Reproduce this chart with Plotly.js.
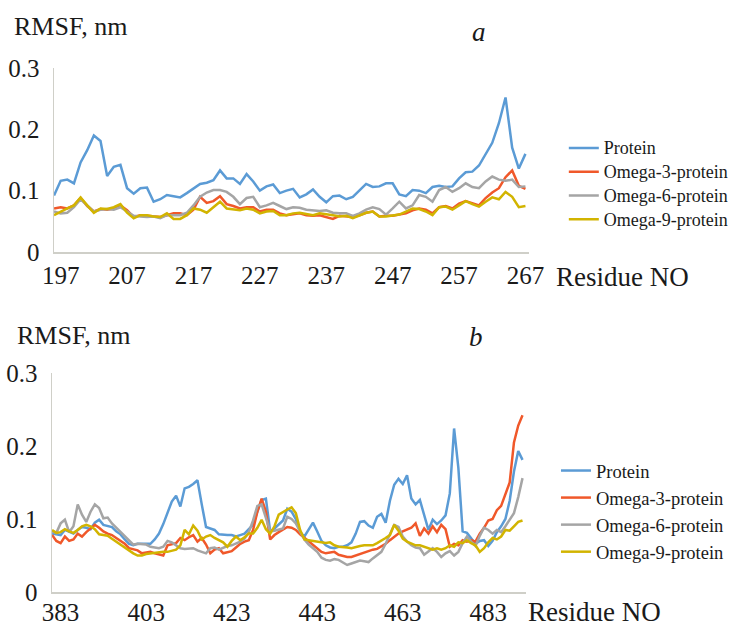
<!DOCTYPE html>
<html>
<head>
<meta charset="utf-8">
<script src="https://cdn.plot.ly/plotly-3.0.1.min.js"></script>
<style>html,body{margin:0;padding:0;background:#fff;}#chart{width:733px;height:626px;}</style>
</head>
<body>
<div id="chart"></div>
<script>
// ---------- Panel a: residues 196..267 ----------
const startA = 196;
const proteinA = [0.092,0.116,0.118,0.112,0.146,0.166,0.190,0.181,0.124,0.139,0.142,0.104,0.095,0.104,0.105,0.082,0.086,0.093,0.091,0.089,0.096,0.104,0.111,0.113,0.117,0.133,0.120,0.120,0.111,0.127,0.115,0.100,0.107,0.110,0.096,0.100,0.103,0.089,0.094,0.102,0.090,0.081,0.091,0.092,0.086,0.090,0.100,0.111,0.106,0.107,0.112,0.112,0.094,0.091,0.101,0.100,0.096,0.106,0.108,0.106,0.107,0.120,0.130,0.131,0.141,0.160,0.178,0.210,0.252,0.170,0.136,0.160];
const omega3A = [0.071,0.073,0.071,0.076,0.088,0.075,0.066,0.070,0.069,0.071,0.076,0.068,0.057,0.060,0.059,0.058,0.057,0.060,0.063,0.063,0.060,0.069,0.090,0.080,0.083,0.091,0.078,0.075,0.071,0.073,0.073,0.066,0.069,0.069,0.063,0.060,0.062,0.063,0.060,0.059,0.060,0.057,0.054,0.059,0.058,0.057,0.060,0.064,0.066,0.058,0.059,0.059,0.061,0.063,0.068,0.071,0.069,0.063,0.073,0.075,0.071,0.079,0.083,0.080,0.076,0.088,0.097,0.104,0.122,0.133,0.108,0.103];
const omega6A = [0.066,0.063,0.064,0.073,0.086,0.076,0.066,0.069,0.070,0.069,0.073,0.066,0.059,0.058,0.057,0.058,0.055,0.060,0.060,0.060,0.064,0.076,0.090,0.097,0.101,0.101,0.098,0.090,0.078,0.088,0.090,0.073,0.076,0.080,0.075,0.070,0.073,0.072,0.069,0.068,0.067,0.068,0.064,0.063,0.063,0.059,0.063,0.069,0.073,0.070,0.061,0.071,0.082,0.071,0.076,0.093,0.090,0.082,0.101,0.106,0.098,0.104,0.112,0.106,0.104,0.115,0.123,0.118,0.116,0.118,0.106,0.107];
const omega9A = [0.060,0.066,0.071,0.076,0.089,0.076,0.064,0.071,0.070,0.073,0.078,0.064,0.055,0.060,0.060,0.058,0.057,0.063,0.054,0.054,0.060,0.071,0.069,0.064,0.073,0.082,0.071,0.069,0.068,0.071,0.069,0.063,0.066,0.067,0.060,0.060,0.063,0.064,0.062,0.060,0.063,0.062,0.060,0.058,0.059,0.055,0.060,0.064,0.066,0.058,0.058,0.060,0.061,0.066,0.071,0.070,0.066,0.060,0.073,0.074,0.069,0.076,0.083,0.078,0.074,0.082,0.089,0.086,0.098,0.090,0.073,0.075];
const ticksA = [197,207,217,227,237,247,257,267];

// ---------- Panel b: residues 381..491 ----------
const startB = 381;
const proteinB = [0.080,0.079,0.078,0.085,0.082,0.080,0.085,0.089,0.088,0.086,0.095,0.099,0.092,0.090,0.089,0.083,0.079,0.072,0.066,0.064,0.066,0.066,0.066,0.066,0.072,0.080,0.093,0.108,0.124,0.132,0.117,0.142,0.144,0.148,0.153,0.120,0.089,0.087,0.085,0.079,0.078,0.078,0.078,0.076,0.078,0.080,0.086,0.092,0.110,0.126,0.128,0.083,0.087,0.093,0.098,0.114,0.110,0.100,0.082,0.076,0.085,0.095,0.083,0.070,0.064,0.061,0.060,0.062,0.062,0.064,0.068,0.080,0.096,0.097,0.091,0.088,0.103,0.107,0.095,0.125,0.147,0.155,0.148,0.160,0.128,0.120,0.126,0.105,0.085,0.099,0.093,0.098,0.105,0.135,0.224,0.170,0.083,0.081,0.073,0.066,0.070,0.071,0.063,0.070,0.082,0.090,0.100,0.125,0.165,0.193,0.181];
const omega3B = [0.078,0.070,0.067,0.076,0.070,0.072,0.080,0.076,0.082,0.087,0.092,0.088,0.083,0.080,0.078,0.074,0.070,0.066,0.060,0.059,0.057,0.053,0.054,0.055,0.053,0.051,0.050,0.064,0.065,0.067,0.074,0.071,0.075,0.078,0.069,0.074,0.065,0.053,0.058,0.060,0.053,0.054,0.056,0.061,0.066,0.069,0.071,0.085,0.110,0.128,0.110,0.072,0.078,0.082,0.085,0.089,0.088,0.085,0.079,0.074,0.069,0.064,0.059,0.055,0.053,0.054,0.055,0.051,0.049,0.048,0.048,0.050,0.053,0.055,0.057,0.058,0.059,0.062,0.066,0.071,0.076,0.080,0.083,0.086,0.088,0.094,0.077,0.087,0.080,0.090,0.082,0.092,0.086,0.062,0.066,0.064,0.071,0.069,0.071,0.069,0.080,0.088,0.098,0.100,0.112,0.118,0.133,0.150,0.205,0.228,0.242];
const omega6B = [0.083,0.081,0.094,0.099,0.082,0.090,0.120,0.106,0.096,0.110,0.120,0.115,0.101,0.102,0.094,0.088,0.082,0.076,0.071,0.065,0.066,0.066,0.065,0.062,0.061,0.060,0.062,0.070,0.068,0.064,0.060,0.059,0.059,0.060,0.057,0.055,0.053,0.060,0.061,0.058,0.061,0.063,0.064,0.066,0.069,0.073,0.082,0.098,0.118,0.120,0.100,0.083,0.084,0.086,0.087,0.103,0.100,0.094,0.083,0.072,0.065,0.060,0.055,0.047,0.044,0.043,0.045,0.044,0.040,0.037,0.039,0.041,0.043,0.042,0.041,0.046,0.050,0.055,0.066,0.078,0.092,0.089,0.076,0.069,0.064,0.061,0.060,0.051,0.055,0.060,0.055,0.048,0.053,0.056,0.050,0.055,0.067,0.076,0.069,0.063,0.077,0.088,0.085,0.080,0.085,0.082,0.090,0.100,0.108,0.130,0.156];
const omega9B = [0.085,0.081,0.082,0.086,0.083,0.081,0.085,0.090,0.092,0.090,0.086,0.079,0.078,0.077,0.073,0.069,0.064,0.060,0.057,0.053,0.050,0.050,0.052,0.053,0.054,0.055,0.055,0.055,0.057,0.058,0.064,0.085,0.079,0.091,0.084,0.072,0.076,0.078,0.074,0.071,0.068,0.062,0.070,0.076,0.071,0.075,0.080,0.080,0.088,0.099,0.086,0.080,0.090,0.106,0.110,0.113,0.116,0.108,0.085,0.072,0.071,0.070,0.069,0.069,0.067,0.068,0.064,0.062,0.062,0.061,0.060,0.062,0.063,0.064,0.064,0.064,0.067,0.070,0.074,0.078,0.092,0.084,0.073,0.069,0.066,0.064,0.064,0.062,0.060,0.058,0.060,0.058,0.060,0.064,0.062,0.068,0.067,0.071,0.067,0.064,0.055,0.060,0.068,0.074,0.072,0.076,0.085,0.084,0.090,0.096,0.098];
const ticksB = [383,403,423,443,463,483];

const seriesNames = ['Protein','Omega-3-protein','Omega-6-protein','Omega-9-protein'];
const colors = ['#5b9bd5','#f0582a','#a5a5a5','#d2b400'];

function residues(start, n){ const r=[]; for(let i=0;i<n;i++) r.push(start+i); return r; }

const traces = [];
[proteinA, omega3A, omega6A, omega9A].forEach((vals,i)=>{
  traces.push({type:'scatter', mode:'lines', x:residues(startA, vals.length), y:vals,
    name:'<span style="font-size:18px">' + seriesNames[i] + '</span>',
    line:{color:colors[i], width:2.5}, xaxis:'x', yaxis:'y', legend:'legend'});
});
[proteinB, omega3B, omega6B, omega9B].forEach((vals,i)=>{
  traces.push({type:'scatter', mode:'lines', x:residues(startB, vals.length), y:vals, name:seriesNames[i],
    line:{color:colors[i], width:2.5}, xaxis:'x2', yaxis:'y2', legend:'legend2'});
});

const serif = 'Liberation Serif';
const ink = '#1a1a1a';
const axisLine = '#cfcfc8';
const W = 733, H = 626;
const px = v => v / W, py = v => 1 - v / H;

function xAx(domain, range, ticks, standoff){
  return {domain:domain, range:range, tickmode:'array', tickvals:ticks, ticktext:ticks.map(String),
    showline:true, linecolor:axisLine, linewidth:1.5, showgrid:false, zeroline:false, ticks:'',
    tickfont:{family: serif, size: 25, color: ink}, ticklabelstandoff:standoff, fixedrange:true};
}
function yAx(domain, anchor){
  return {domain:domain, range:[0,0.3], tickmode:'array', tickvals:[0,0.1,0.2,0.3], ticktext:['0','0.1','0.2','0.3'],
    showline:true, linecolor:axisLine, linewidth:1.5, showgrid:false, zeroline:false, ticks:'',
    tickfont:{family: serif, size: 25, color: ink}, ticklabelstandoff:8, anchor:anchor, fixedrange:true};
}

const layout = {
  width: W, height: H, autosize:false,
  margin:{l:0,r:0,t:0,b:0,pad:0},
  paper_bgcolor:'#ffffff', plot_bgcolor:'#ffffff',
  font:{family: serif, color: ink},
  xaxis: Object.assign(xAx([px(55), px(539)], [196, 267.6], ticksA, 0), {anchor:'y'}),
  yaxis: yAx([py(252), py(68)], 'x'),
  xaxis2: Object.assign(xAx([px(53), px(535)], [381, 491.7], ticksB, -3), {anchor:'y2'}),
  yaxis2: yAx([py(592), py(373)], 'x2'),
  legend: {x: px(574), xanchor:'left', y: py(131), yanchor:'top', bgcolor:'rgba(0,0,0,0)',
    font:{family: serif, size:16, color: ink}, itemwidth:30, traceorder:'normal'},
  legend2: {x: px(566), xanchor:'left', y: py(452), yanchor:'top', bgcolor:'rgba(0,0,0,0)',
    font:{family: serif, size:18.5, color: ink}, itemwidth:30, traceorder:'normal'},
  showlegend:true,
  annotations:[
    {text:'RMSF, nm', x:px(12), y:py(27), xref:'paper', yref:'paper', xanchor:'left', yanchor:'middle', showarrow:false, font:{family:serif, size:26, color:ink}},
    {text:'<i>a</i>', x:px(488), y:py(32), xref:'paper', yref:'paper', xanchor:'center', yanchor:'middle', showarrow:false, font:{family:serif, size:27, color:ink}},
    {text:'Residue NO', x:px(564), y:py(277), xref:'paper', yref:'paper', xanchor:'left', yanchor:'middle', showarrow:false, font:{family:serif, size:27, color:ink}},
    {text:'RMSF, nm', x:px(15), y:py(335), xref:'paper', yref:'paper', xanchor:'left', yanchor:'middle', showarrow:false, font:{family:serif, size:26, color:ink}},
    {text:'<i>b</i>', x:px(485), y:py(337), xref:'paper', yref:'paper', xanchor:'center', yanchor:'middle', showarrow:false, font:{family:serif, size:27, color:ink}},
    {text:'Residue NO', x:px(536), y:py(612), xref:'paper', yref:'paper', xanchor:'left', yanchor:'middle', showarrow:false, font:{family:serif, size:27, color:ink}}
  ]
};

Plotly.newPlot('chart', traces, layout, {displayModeBar:false, staticPlot:true});
</script>
</body>
</html>
